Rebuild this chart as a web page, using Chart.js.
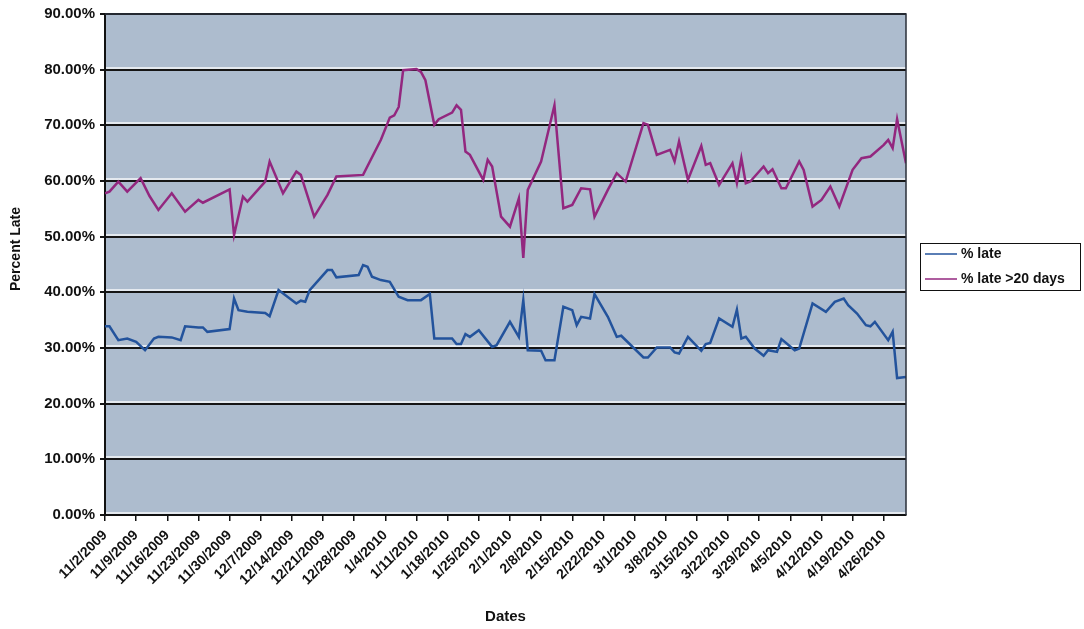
<!DOCTYPE html>
<html>
<head>
<meta charset="utf-8">
<style>
  html, body { margin: 0; padding: 0; background: #ffffff; }
  #wrap { width: 1084px; height: 629px; position: relative; }
</style>
<script src="https://cdn.jsdelivr.net/npm/chart.js@4.4.1/dist/chart.umd.min.js"></script>
</head>
<body>
<div id="wrap"><canvas id="c" width="1084" height="629"></canvas></div>
<script>
// ---- Data (day offsets counted from 11/2/2009) ----
const tickLabels = ['11/2/2009','11/9/2009','11/16/2009','11/23/2009','11/30/2009','12/7/2009','12/14/2009','12/21/2009','12/28/2009','1/4/2010','1/11/2010','1/18/2010','1/25/2010','2/1/2010','2/8/2010','2/15/2010','2/22/2010','3/1/2010','3/8/2010','3/15/2010','3/22/2010','3/29/2010','4/5/2010','4/12/2010','4/19/2010','4/26/2010'];

const seriesNames = ['% late', '% late >20 days'];

const lateDays = [0,1,3,5,7,9,11,12,15,17,18,21,22,23,28,29,30,32,36,37,39,43,44,45,46,50,51,52,57,58,59,60,62,64,66,68,71,73,74,78,79,80,81,82,84,87,88,91,93,94,95,98,99,101,103,105,106,107,109,110,113,115,116,121,122,124,127,128,129,131,134,135,136,138,141,142,143,144,146,148,149,151,152,155,156,159,162,164,166,167,169,171,172,173,176,177,178,180];
const lateValues = [33.9,33.9,31.4,31.7,31.1,29.6,31.7,32.0,31.9,31.4,33.9,33.7,33.7,32.9,33.4,38.9,36.8,36.5,36.3,35.7,40.4,38.0,38.5,38.3,40.4,44.0,44.0,42.7,43.1,44.9,44.6,42.8,42.2,41.9,39.2,38.6,38.6,39.7,31.7,31.7,30.7,30.7,32.5,32.0,33.2,30.2,30.5,34.7,32.0,38.6,29.6,29.5,27.8,27.8,37.4,36.8,34.1,35.6,35.3,39.7,35.6,32.0,32.2,28.3,28.3,30.1,30.1,29.2,29.0,32.0,29.5,30.7,30.9,35.3,33.8,36.9,31.7,32.0,29.9,28.6,29.6,29.3,31.6,29.6,29.9,38.0,36.5,38.3,38.9,37.7,36.2,34.1,33.9,34.7,31.4,32.9,24.6,24.8];

const late20Days = [0,1,3,5,8,10,12,15,18,21,22,28,29,31,32,36,37,40,43,44,47,50,52,58,62,64,65,66,67,70,71,72,74,75,78,79,80,81,82,85,86,87,89,91,93,94,95,98,101,103,105,107,109,110,113,115,117,121,122,124,127,128,129,131,134,135,136,138,141,142,143,144,145,148,149,150,152,153,156,157,159,161,163,165,168,170,172,175,176,177,178,180];
const late20Values = [57.8,58.1,59.9,58.1,60.5,57.3,54.8,57.8,54.5,56.6,56.1,58.5,50.3,57.2,56.3,59.9,63.5,57.8,61.7,61.1,53.6,57.5,60.8,61.1,67.4,71.4,71.8,73.3,79.9,80.1,79.6,78.1,70.1,71.1,72.3,73.6,72.8,65.3,64.7,60.2,63.8,62.6,53.6,51.8,56.9,46.2,58.4,63.5,73.6,55.1,55.7,58.7,58.5,53.6,58.4,61.4,59.9,70.4,70.1,64.7,65.6,63.5,67.1,60.2,66.3,62.9,63.2,59.3,63.2,59.6,64.1,59.6,59.9,62.6,61.4,62.1,58.7,58.7,63.5,62.0,55.4,56.6,59.0,55.4,62.0,64.1,64.4,66.5,67.4,65.9,71.1,63.2];

const seriesColors = ['#23539c', '#93277f'];
const FONT = "'Liberation Sans', Arial, Helvetica, sans-serif";

const toPoints = (xs, ys) => xs.map((d, i) => ({ x: d, y: ys[i] }));

const plotBg = {
  id: 'plotBg',
  beforeDraw(chart) {
    const { ctx, chartArea: a } = chart;
    ctx.save();
    ctx.fillStyle = '#adbcce';
    ctx.fillRect(a.left, a.top, a.right - a.left, a.bottom - a.top);
    const ys = chart.scales.y;
    ctx.strokeStyle = 'rgba(255,255,255,0.9)';
    ctx.lineWidth = 1.5;
    ys.ticks.forEach(t => {
      const y = Math.round(ys.getPixelForValue(t.value)) - 2;
      if (y > a.top + 2) {
        ctx.beginPath(); ctx.moveTo(a.left, y); ctx.lineTo(a.right, y); ctx.stroke();
      }
    });
    ctx.restore();
  },
  afterDraw(chart) {
    const { ctx, chartArea: a } = chart;
    ctx.save();
    ctx.strokeStyle = '#2a2f3a';
    ctx.lineWidth = 1.5;
    ctx.beginPath();
    ctx.moveTo(a.left, a.top); ctx.lineTo(a.right, a.top); ctx.lineTo(a.right, a.bottom);
    ctx.stroke();
    ctx.fillStyle = '#111';
    ctx.font = 'bold 14px ' + FONT;
    ctx.textAlign = 'center';
    ctx.textBaseline = 'middle';
    ctx.translate(16.5, 249);
    ctx.rotate(-Math.PI / 2);
    ctx.fillText('Percent Late', 0, 0);
    ctx.restore();

    ctx.save();
    const bx = 920, by = 243, bw = 160, bh = 47;
    ctx.fillStyle = '#fff';
    ctx.fillRect(bx, by, bw, bh);
    ctx.strokeStyle = '#111';
    ctx.lineWidth = 1;
    ctx.strokeRect(bx + 0.5, by + 0.5, bw, bh);
    ctx.font = 'bold 14px ' + FONT;
    ctx.textAlign = 'left';
    ctx.textBaseline = 'middle';
    chart.data.datasets.forEach((ds, i) => {
      const y = by + 11 + i * 25;
      ctx.strokeStyle = ds.borderColor;
      ctx.lineWidth = 1.5;
      ctx.beginPath(); ctx.moveTo(bx + 5, y); ctx.lineTo(bx + 37, y); ctx.stroke();
      ctx.fillStyle = '#111';
      ctx.fillText(ds.label, bx + 41, y);
    });
    ctx.restore();
  }
};

new Chart(document.getElementById('c'), {
  type: 'line',
  data: {
    datasets: [
      { label: seriesNames[0], data: toPoints(lateDays, lateValues), borderColor: seriesColors[0], backgroundColor: seriesColors[0], borderWidth: 2.5, pointRadius: 0, tension: 0, fill: false },
      { label: seriesNames[1], data: toPoints(late20Days, late20Values), borderColor: seriesColors[1], backgroundColor: seriesColors[1], borderWidth: 2.5, pointRadius: 0, tension: 0, fill: false }
    ]
  },
  options: {
    responsive: false,
    animation: false,
    devicePixelRatio: 1,
    layout: { padding: { top: 14, right: 178, bottom: 0, left: 0 } },
    plugins: { legend: { display: false }, tooltip: { enabled: false } },
    scales: {
      x: {
        type: 'linear',
        min: 0,
        max: 180,
        afterBuildTicks: (s) => { s.ticks = tickLabels.map((_, i) => ({ value: i * 7 })); },
        afterFit: (s) => { s.height = 114; },
        ticks: {
          stepSize: 7,
          autoSkip: false,
          minRotation: 45,
          maxRotation: 45,
          padding: 6,
          color: '#111',
          font: { family: FONT, size: 14, weight: 'bold' },
          callback: (v) => tickLabels[Math.round(v / 7)] ?? ''
        },
        grid: { drawOnChartArea: false, drawTicks: true, tickLength: 6, color: '#111', lineWidth: 1.5 },
        border: { display: true, color: '#111', width: 2 },
        title: { display: true, text: 'Dates', color: '#111', font: { family: FONT, size: 15, weight: 'bold' }, padding: { top: 0, bottom: 3 } }
      },
      y: {
        min: 0,
        max: 90,
        afterFit: (s) => { s.width = 105; },
        ticks: {
          stepSize: 10,
          padding: 5,
          color: '#111',
          font: { family: FONT, size: 15, weight: 'bold' },
          callback: (v) => v.toFixed(2) + '%'
        },
        grid: { color: '#151515', lineWidth: 2, tickLength: 5 },
        border: { display: true, color: '#111', width: 2 }
      }
    }
  },
  plugins: [plotBg]
});
</script>
</body>
</html>
